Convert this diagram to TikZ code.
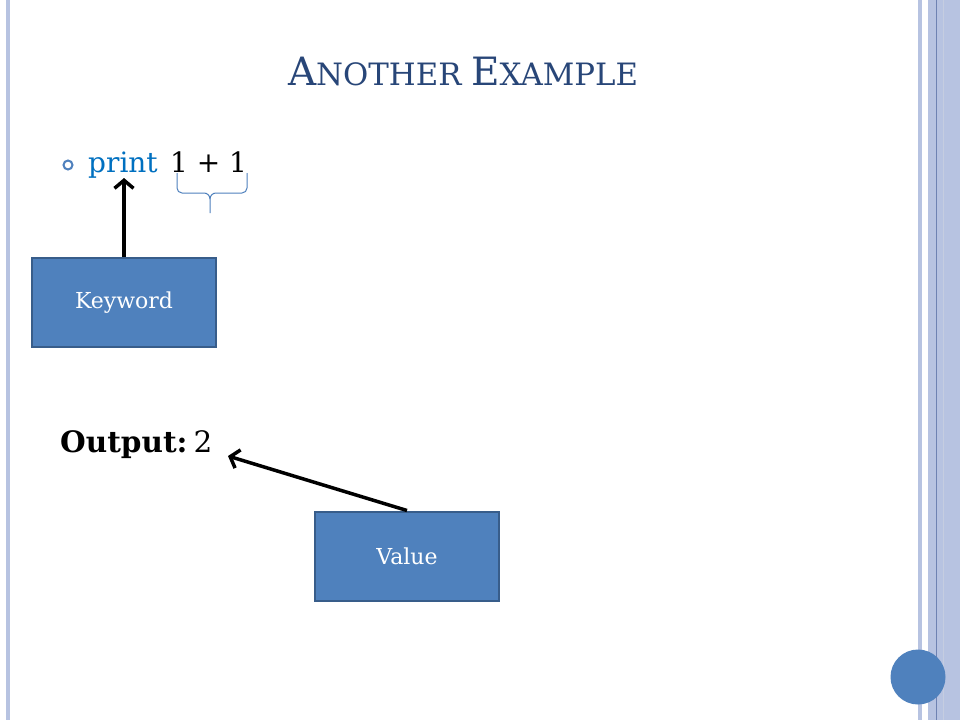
\documentclass[tikz,border=0pt]{standalone}
\usepackage{fontspec}
\usepackage{tikz}
\usetikzlibrary{arrows.meta}
\setmainfont{DejaVu Serif}

\definecolor{stripe}{RGB}{183,195,225}
\definecolor{stripedark}{RGB}{110,130,178}
\definecolor{accent}{RGB}{79,129,189}
\definecolor{boxedge}{RGB}{56,93,138}
\definecolor{keyblue}{RGB}{0,112,192}
\definecolor{titleblue}{RGB}{40,70,120}

\newcommand{\titlecap}[1]{{\fontsize{39}{44}\selectfont #1}}
\newcommand{\titlesmall}[1]{{\fontsize{30.8}{35}\selectfont #1}}

\tikzset{
    labelbox/.style = {draw = boxedge, fill = accent, line width = 2pt,
        minimum width = 184pt, minimum height = 89pt, inner sep = 0pt,
        text = white, font = \fontsize{22}{26}\selectfont},
    pointer/.style = {-{Straight Barb[length = 8pt, width = 19pt]}, line width = 3.5pt},
    bigtext/.style = {inner sep = 0pt, font = \fontsize{28}{34}\selectfont},
    bracket/.style = {accent, line width = 1pt}
}

\begin{document}
\begin{tikzpicture}[x = 1pt, y = -1pt]
    \useasboundingbox [fill = white] (0,0) rectangle (960,720);
    % slide frame
    \fill [stripe] (6,0) rectangle (10,720);
    \fill [stripe] (918,0) rectangle (922,720);
    \fill [stripe] (928,0) rectangle (960,720);
    \draw [stripedark, line width = 1pt] (936.5,0) -- (936.5,720);
    \draw [stripedark!40, line width = 1pt] (943.5,0) -- (943.5,720);
    \fill [accent] (918,677) circle (27.5);
    % title
    \node (title) at (463,85) [anchor = base, inner sep = 0pt, text = titleblue]
        {\titlecap{A}\titlesmall{NOTHER\ }\titlecap{E}\titlesmall{XAMPLE}};
    % bullet line
    \draw [accent, line width = 2pt] (68,165) circle (4.5);
    \node (kw) at (88,172) [bigtext, anchor = base west, text = keyblue] {print};
    \node (expr) at (kw.base east) [bigtext, anchor = base west] {\kern 12pt 1 + 1};
    % brace under 1 + 1
    \coordinate (bl) at (177,173);
    \coordinate (br) at (247,173);
    \coordinate (btip) at (210,213);
    \draw [bracket] (bl) -- (177,188) to [out = -90, in = 180] (182,193) -- (204,193)
        to [out = 0, in = 90] (210,199) -- (btip);
    \draw [bracket] (br) -- (247,188) to [out = -90, in = 0] (242,193) -- (216,193)
        to [out = 180, in = 90] (210,199);
    % output line
    \node (out) at (60,452) [bigtext, anchor = base west, font = \fontsize{29.5}{34}\selectfont] {\textbf{Output:}\kern 6pt 2};
    \coordinate (outtip) at (228,456);
    % boxes
    \node (keyword) at (124,302.5) [labelbox] {Keyword};
    \node (value) at (407,556) [labelbox] {Value};
    \draw [pointer] (keyword.north) -- (keyword.north |- kw.south);
    \draw [pointer] (value.north) -- (outtip);
\end{tikzpicture}
\end{document}
